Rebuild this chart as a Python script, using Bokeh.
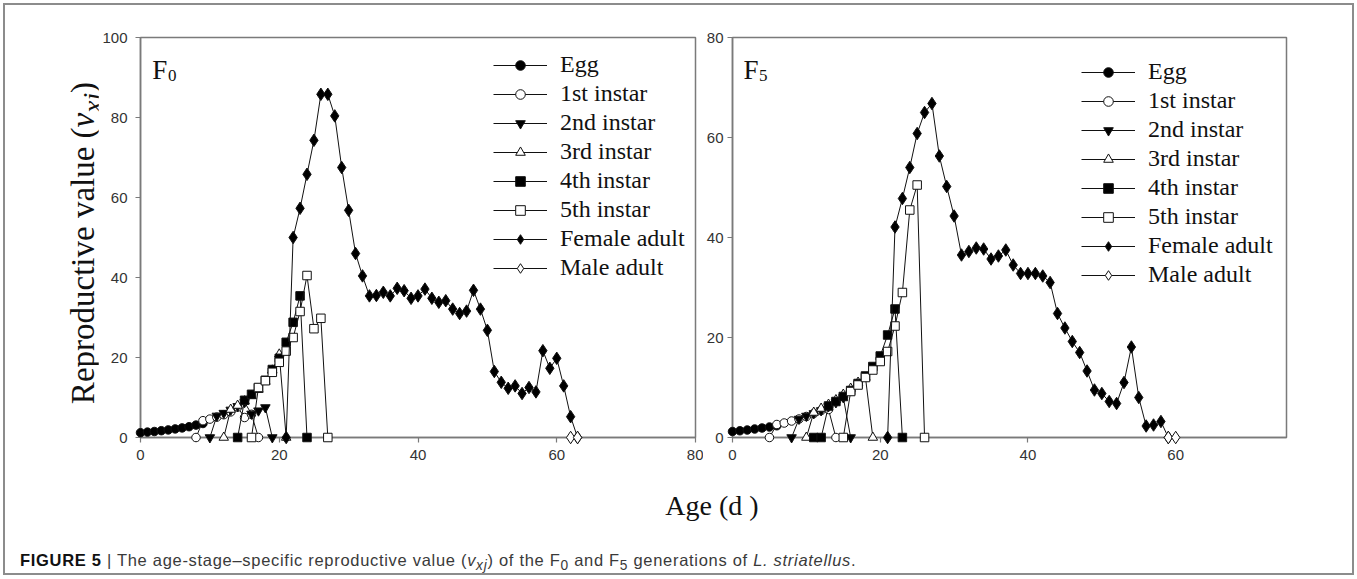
import math
from bokeh.plotting import figure
from bokeh.models import Range1d, Label, Legend, LegendItem, Div
from bokeh.layouts import row, column
from bokeh.embed import file_html
from bokeh.resources import INLINE

# ---------------- data ----------------
stage_names = ["Egg", "1st instar", "2nd instar", "3rd instar",
               "4th instar", "5th instar", "Female adult", "Male adult"]

# F0 generation
f0_egg_age = list(range(0, 10))
f0_egg_v = [1.2, 1.35, 1.5, 1.7, 1.9, 2.15, 2.4, 2.7, 3.1, 3.5]
f0_n1_age = list(range(8, 18))
f0_n1_v = [0, 4.2, 4.6, 5.1, 5.7, 6.4, 7.6, 5.0, 5.8, 0]
f0_n2_age = list(range(10, 20))
f0_n2_v = [0, 5.4, 6.1, 6.9, 7.8, 8.8, 5.9, 6.7, 7.5, 0]
f0_n3_age = list(range(12, 22))
f0_n3_v = [0, 7.0, 8.0, 9.1, 10.4, 12.0, 14.0, 16.8, 20.8, 0]
f0_n4_age = list(range(14, 25))
f0_n4_v = [0, 9.3, 10.8, 12.4, 14.3, 17.0, 19.8, 23.8, 28.8, 35.4, 0]
f0_n5_age = list(range(16, 28))
f0_n5_v = [0, 12.5, 14.2, 16.3, 18.8, 21.6, 25.0, 31.5, 40.5, 27.2, 29.8, 0]
f0_fem_age = list(range(21, 64))
f0_fem_v = [0, 50.0, 57.3, 65.8, 74.3, 85.8, 85.8, 80.4, 67.5, 56.8,
            46.0, 40.4, 35.4, 35.5, 36.3, 35.4, 37.3, 36.7, 34.8, 35.4,
            37.1, 34.8, 33.8, 34.2, 32.1, 31.0, 31.6, 36.8, 32.1, 26.8,
            16.5, 13.8, 12.3, 12.9, 11.0, 12.5, 11.4, 21.7, 17.3, 19.8,
            12.9, 5.2, 0]
f0_male_age = [62, 63]
f0_male_v = [0, 0]

# F5 generation
f5_egg_age = list(range(0, 7))
f5_egg_v = [1.2, 1.35, 1.5, 1.7, 1.9, 2.1, 2.35]
f5_n1_age = list(range(5, 15))
f5_n1_v = [0, 2.6, 2.9, 3.3, 3.7, 4.2, 4.8, 5.4, 5.6, 0]
f5_n2_age = list(range(8, 17))
f5_n2_v = [0, 3.7, 4.3, 4.8, 5.4, 6.2, 7.0, 8.0, 0]
f5_n3_age = list(range(10, 20))
f5_n3_v = [0, 5.0, 5.8, 6.6, 7.5, 8.6, 9.8, 11.0, 12.0, 0]
f5_n4_age = list(range(11, 24))
f5_n4_v = [0, 0, 6.3, 7.2, 8.2, 9.4, 10.8, 12.3, 14.2, 16.3, 20.5, 25.7, 0]
f5_n5_age = list(range(15, 27))
f5_n5_v = [0, 9.2, 10.5, 12.0, 13.5, 15.2, 17.2, 22.3, 29.0, 45.5, 50.5, 0]
f5_fem_age = list(range(21, 60))
f5_fem_v = [0, 42.1, 47.8, 54.0, 60.8, 65.0, 66.8, 56.3, 50.2, 44.3,
            36.5, 37.2, 37.9, 37.7, 35.7, 36.3, 37.5, 34.5, 32.8, 32.8,
            32.8, 32.3, 31.0, 24.8, 21.9, 19.2, 17.0, 13.3, 9.5, 8.8,
            7.2, 6.8, 11.0, 18.1, 8.0, 2.3, 2.5, 3.2, 0]
f5_male_age = [59, 60]
f5_male_v = [0, 0]

f0_x_ticks = [0, 20, 40, 60, 80]
f0_y_ticks = [0, 20, 40, 60, 80, 100]
f5_x_ticks = [0, 20, 40, 60]
f5_y_ticks = [0, 20, 40, 60, 80]

# ---------------- styling ----------------
marker_styles = [
    ("circle", "black", 8.5),
    ("circle", "white", 8.5),
    ("inverted_triangle", "black", 9.5),
    ("triangle", "white", 9.5),
    ("square", "black", 8.5),
    ("square", "white", 8.5),
    ("diamond", "black", 12.5),
    ("diamond", "white", 12.5),
]
SERIF = "Liberation Serif"
SANS = "Liberation Sans"
AXIS_COL = "#7a7a7a"


def make_panel(series, xr, yr, xticks, yticks, width, bl, br, legend_loc):
    p = figure(width=width, height=464, x_range=Range1d(*xr), y_range=Range1d(*yr),
               output_backend="svg", toolbar_location=None,
               min_border_left=bl, min_border_right=br,
               min_border_top=29, min_border_bottom=35)
    p.grid.visible = False
    p.outline_line_color = AXIS_COL
    p.outline_line_width = 1.5
    for ax in (p.xaxis[0], p.yaxis[0]):
        ax.axis_line_color = AXIS_COL
        ax.axis_line_width = 1.5
        ax.major_tick_line_color = AXIS_COL
        ax.major_tick_line_width = 1.2
        ax.major_tick_in = 0
        ax.major_tick_out = 5
        ax.minor_tick_line_color = None
        ax.major_label_text_font = SANS
        ax.major_label_text_font_size = "15px"
        ax.major_label_text_color = "#333333"
        ax.axis_label = None
    p.xaxis.ticker = xticks
    p.yaxis.ticker = yticks
    p.xaxis.major_label_standoff = 7
    items = []
    for name, (ages, vals), (mk, fill, size) in zip(stage_names, series, marker_styles):
        ln = p.line(ages, vals, line_color="#111111", line_width=1, level="overlay")
        sc = p.scatter(ages, vals, marker=mk, size=size, fill_color=fill,
                       line_color="#111111", line_width=1, level="overlay")
        items.append(LegendItem(label=name, renderers=[ln, sc]))
    leg = Legend(items=items, location=legend_loc, padding=0, margin=0,
                 spacing=2, glyph_width=54, glyph_height=24, label_height=24,
                 label_standoff=13, border_line_color=None,
                 background_fill_alpha=0,
                 label_text_font=SERIF, label_text_font_size="24px",
                 label_text_color="#111111")
    p.add_layout(leg)
    return p


f0_series = [(f0_egg_age, f0_egg_v), (f0_n1_age, f0_n1_v), (f0_n2_age, f0_n2_v),
             (f0_n3_age, f0_n3_v), (f0_n4_age, f0_n4_v), (f0_n5_age, f0_n5_v),
             (f0_fem_age, f0_fem_v), (f0_male_age, f0_male_v)]
f5_series = [(f5_egg_age, f5_egg_v), (f5_n1_age, f5_n1_v), (f5_n2_age, f5_n2_v),
             (f5_n3_age, f5_n3_v), (f5_n4_age, f5_n4_v), (f5_n5_age, f5_n5_v),
             (f5_fem_age, f5_fem_v), (f5_male_age, f5_male_v)]

p1 = make_panel(f0_series, (0, 80), (0, 100), f0_x_ticks, f0_y_ticks,
                605, 42, 8, (353, 156))
p1.yaxis.major_label_standoff = 8
p2 = make_panel(f5_series, (0, 75), (0, 80), f5_x_ticks, f5_y_ticks,
                593, 28, 10, (349, 149))
p2.yaxis.major_label_standoff = 4


def add_text(p, x, y, text, size, style="normal"):
    p.add_layout(Label(x=x, y=y, text=text, text_font=SERIF,
                       text_font_size=size, text_font_style=style,
                       text_color="#111111", text_align="left",
                       text_baseline="alphabetic"))


# panel tags
add_text(p1, 1.7, 91.8, "F", "27px")
add_text(p1, 3.95, 90.4, "0", "17px")
add_text(p2, 1.5, 73.6, "F", "27px")
add_text(p2, 3.6, 72.5, "5", "17px")

# rotated y-axis title (HTML so that v_xj is italic with a subscript)
ytitle = Div(
    text='<div style="position:relative;width:90px;height:464px;">'
         '<div style="position:absolute;left:80px;top:235px;'
         'transform:translate(-50%,-50%) rotate(-90deg);white-space:nowrap;'
         'font-family:\'Liberation Serif\';font-size:33px;line-height:36px;color:#111">'
         'Reproductive value (<i>v</i><sub><i>xj</i></sub>)</div></div>',
    width=90, height=464, margin=0)

xlabel = Div(
    text='<div style="margin-left:612px;width:184px;padding-top:18px;text-align:center;'
         'font-family:\'Liberation Serif\';font-size:28px;line-height:32px;color:#111">'
         'Age (d )</div>',
    width=1341, height=60, margin=0)

caption = Div(
    text='<div style="margin-left:12px;padding-top:19px;font-family:\'Liberation Sans\';'
         'font-size:16.5px;letter-spacing:0.7px;line-height:19px;color:#3a3a3a;white-space:nowrap">'
         '<b style="color:#111">FIGURE 5</b> | The age-stage&ndash;specific reproductive value '
         '(<i>v</i><sub><i>xj</i></sub>) of the F<sub>0</sub> and F<sub>5</sub> '
         'generations of <i>L. striatellus</i>.</div>',
    width=1341, height=38, margin=0)

layout = column(row(ytitle, p1, p2), xlabel, caption, width=1341,
                margin=(8, 8, 0, 8),
                styles={"outline": "2px solid #8c8c8c", "outline-offset": "3px"})

open("out.html", "w").write(file_html(layout, INLINE))
